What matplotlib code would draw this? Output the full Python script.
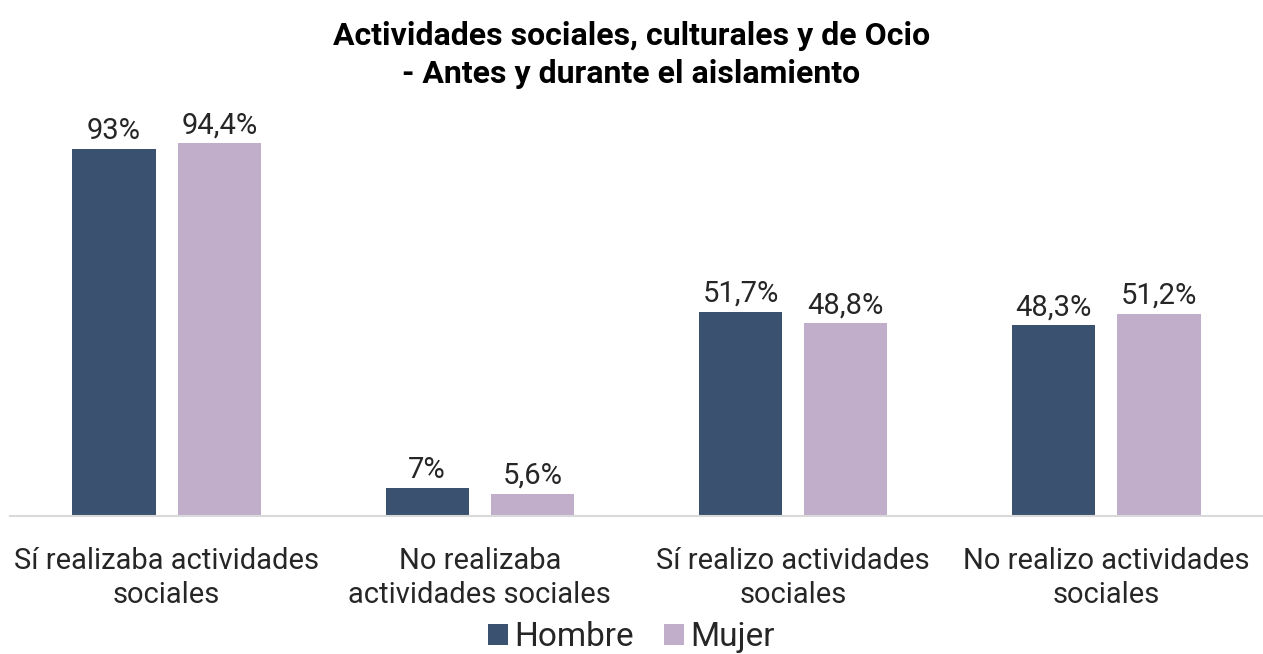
import matplotlib
matplotlib.use("Agg")
import matplotlib.pyplot as plt
import numpy as np

categories = ["Sí realizaba actividades\nsociales", "No realizaba\nactividades sociales",
              "Sí realizo actividades\nsociales", "No realizo actividades\nsociales"]
series_names = ["Hombre", "Mujer"]
hombre = [93, 7, 51.7, 48.3]
mujer = [94.4, 5.6, 48.8, 51.2]
hombre_labels = ["93%", "7%", "51,7%", "48,3%"]
mujer_labels = ["94,4%", "5,6%", "48,8%", "51,2%"]
colors = ["#3a5270", "#c0aecb"]

plt.rcParams['font.family'] = ['Roboto', 'DejaVu Sans']

fig = plt.figure(figsize=(12.63, 6.54), dpi=100)
ax = fig.add_axes([10/1263, 1-516/654, 1-10/1263, (516-121)/654])

x = np.arange(len(categories))
w = 0.266
off = 0.168
b1 = ax.bar(x - off, hombre, w, color=colors[0], label=series_names[0])
b2 = ax.bar(x + off, mujer, w, color=colors[1], label=series_names[1])
for bars, labs in ((b1, hombre_labels), (b2, mujer_labels)):
    for r, l in zip(bars, labs):
        ax.text(r.get_x() + r.get_width()/2, r.get_height() + 1.0, l,
                ha='center', va='bottom', fontsize=21, color='#262626')

ax.set_xlim(-0.5, 3.5)
ax.set_ylim(0, 100)
ax.set_yticks([])
ax.set_xticks(x)
ax.set_xticklabels(categories, fontsize=21, color='#262626', linespacing=1.3)
ax.tick_params(axis='x', length=0, pad=22)
for s in ['top', 'right', 'left']:
    ax.spines[s].set_visible(False)
ax.spines['bottom'].set_color('#d9d9d9')
ax.spines['bottom'].set_linewidth(1.5)

fig.text(0.5, 1-55/654, "Actividades sociales, culturales y de Ocio\n- Antes y durante el aislamiento",
         ha='center', va='center', fontsize=23, fontweight='bold', color='black', linespacing=1.3)

fig.legend(handles=[b1, b2], loc='center', bbox_to_anchor=(0.5, 1-637/654), ncol=2,
           frameon=False, fontsize=24, handlelength=0.6, handleheight=0.6,
           handletextpad=0.2, columnspacing=0.9, labelcolor='#262626',
           borderpad=0.1)

fig.savefig("out.png", dpi=100)
